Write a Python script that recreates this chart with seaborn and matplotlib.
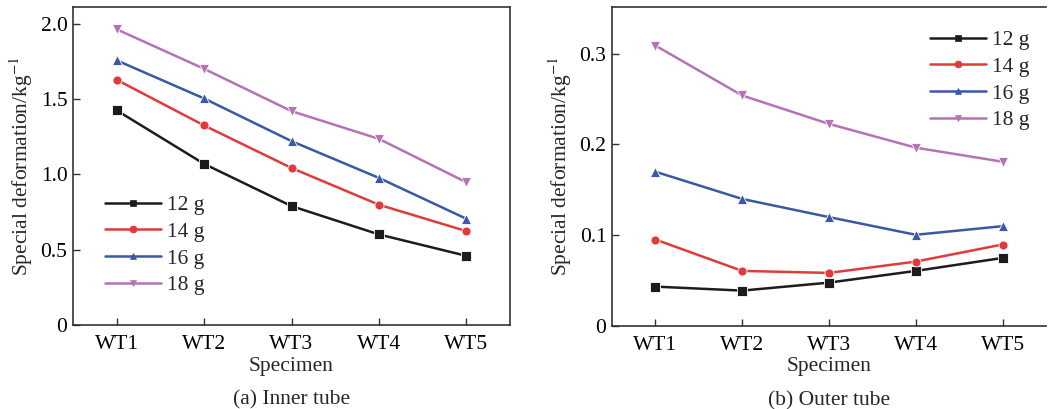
import matplotlib
matplotlib.use("Agg")
import matplotlib.pyplot as plt
import seaborn as sns
import pandas as pd
from matplotlib.lines import Line2D

specimens = ["WT1", "WT2", "WT3", "WT4", "WT5"]
loads = ["12 g", "14 g", "16 g", "18 g"]

inner_12 = [1.424, 1.069, 0.789, 0.601, 0.459]
inner_14 = [1.627, 1.324, 1.042, 0.798, 0.623]
inner_16 = [1.756, 1.503, 1.220, 0.976, 0.705]
inner_18 = [1.962, 1.700, 1.419, 1.235, 0.947]

outer_12 = [0.0434, 0.039, 0.0478, 0.0607, 0.075]
outer_14 = [0.0953, 0.0607, 0.0585, 0.071, 0.0898]
outer_16 = [0.170, 0.140, 0.120, 0.1005, 0.110]
outer_18 = [0.309, 0.254, 0.2227, 0.1965, 0.181]

inner_ticks = [0, 0.5, 1.0, 1.5, 2.0]
inner_ticklabels = ["0", "0.5", "1.0", "1.5", "2.0"]
outer_ticks = [0, 0.1, 0.2, 0.3]
outer_ticklabels = ["0", "0.1", "0.2", "0.3"]

colors = {"12 g": "#1c1c1c", "14 g": "#e23a3a", "16 g": "#3a58a6", "18 g": "#b274b4"}
markers = {"12 g": "s", "14 g": "o", "16 g": "^", "18 g": "v"}


def long_df(series):
    rows = []
    for load, vals in zip(loads, series):
        for i, v in enumerate(vals):
            rows.append({"x": i, "Specimen": specimens[i], "load": load, "value": v})
    return pd.DataFrame(rows)


df_in = long_df([inner_12, inner_14, inner_16, inner_18])
df_out = long_df([outer_12, outer_14, outer_16, outer_18])

sns.set_style("ticks")
plt.rcParams["font.family"] = ["Liberation Serif", "DejaVu Serif"]
plt.rcParams["mathtext.fontset"] = "stix"

W, H = 1049, 409
fig = plt.figure(figsize=(W / 100, H / 100), dpi=100)
ax1 = fig.add_axes([73 / W, (H - 325) / H, (510 - 73) / W, (325 - 7) / H])
ax2 = fig.add_axes([612 / W, (H - 326) / H, (1046 - 612) / W, (326 - 7) / H])

fs = 15.5


def draw(ax, df, ylim, ticks, ticklabels, legend_loc, caption):
    sns.lineplot(data=df, x="x", y="value", hue="load", style="load",
                 palette=colors, markers=markers, dashes=False,
                 linewidth=1.8, markersize=6.5, markeredgewidth=0.6,
                 legend=False, ax=ax)
    ax.set_xlim(-0.5, 4.5)
    ax.set_ylim(*ylim)
    ax.set_xticks(range(5))
    ax.set_xticklabels(specimens, fontsize=fs)
    ax.set_yticks(ticks)
    ax.set_yticklabels(ticklabels, fontsize=fs)
    ax.tick_params(direction="in", length=5, width=1.0, colors="#333333",
                   labelcolor="black")
    ax.tick_params(axis="x", pad=7)
    ax.tick_params(axis="y", pad=4)
    for s in ax.spines.values():
        s.set_linewidth(1.2)
        s.set_color("#333333")
    ax.set_xlabel("Specimen", fontsize=fs, labelpad=2)
    ax.set_ylabel("Special deformation/kg$^{-1}$", fontsize=fs, labelpad=4)
    handles = [Line2D([0], [0], color=colors[l], marker=markers[l], lw=1.8,
                      markersize=5, markeredgewidth=0.5) for l in loads]
    ax.legend(handles, loads, frameon=False, fontsize=fs, handlelength=2.6,
              handletextpad=0.3, labelspacing=0.31, borderpad=0.0,
              borderaxespad=0.0, **legend_loc)
    ax.text(0.5, -0.205, caption, transform=ax.transAxes, ha="center",
            va="top", fontsize=fs)


draw(ax1, df_in, (0, 2.11), inner_ticks, inner_ticklabels,
     dict(loc="upper left", bbox_to_anchor=(32 / 437, 1 - (195 - 7) / 318)),
     "(a) Inner tube")
draw(ax2, df_out, (0, 0.3515), outer_ticks, outer_ticklabels,
     dict(loc="upper left", bbox_to_anchor=((930 - 612) / 434, 1 - (30 - 7) / 319)),
     "(b) Outer tube")
ax2.spines["right"].set_visible(False)

fig.savefig("out.png", dpi=100)
